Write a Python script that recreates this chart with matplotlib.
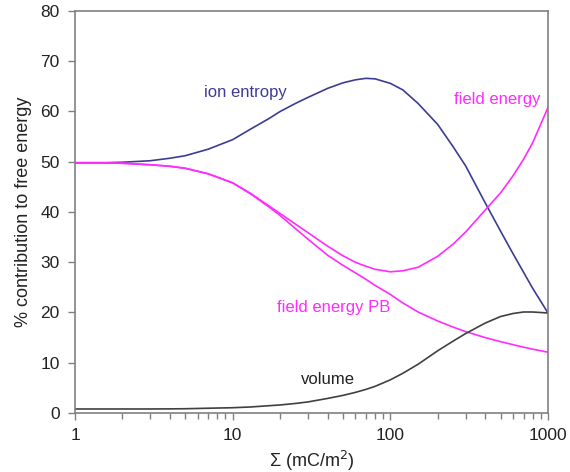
import matplotlib.pyplot as plt
from matplotlib.ticker import FixedLocator, FixedFormatter, LogLocator, NullFormatter

plt.rcParams.update({"font.family": ["Liberation Sans", "DejaVu Sans"], "font.size": 12})

# surface charge density (mC/m^2)
sigma = [1, 1.5, 2, 3, 4, 5, 7, 10, 13, 17, 20, 25, 30, 40, 50, 60, 70, 80,
         100, 120, 150, 200, 250, 300, 400, 500, 600, 700, 800, 1000]

ion_entropy = [49.8, 49.8, 49.9, 50.2, 50.7, 51.2, 52.5, 54.4, 56.5, 58.6, 60.0, 61.6,
               62.8, 64.6, 65.7, 66.3, 66.6, 66.5, 65.6, 64.3, 61.6, 57.4, 53.0, 49.2,
               41.8, 36.2, 31.7, 28.0, 24.8, 19.9]
field_energy = [49.8, 49.8, 49.7, 49.4, 49.1, 48.7, 47.6, 45.8, 43.7, 41.2, 39.7, 37.6,
                35.9, 33.2, 31.3, 30.0, 29.2, 28.6, 28.1, 28.3, 29.0, 31.2, 33.6, 36.0,
                40.4, 43.8, 47.2, 50.5, 53.8, 60.8]
field_energy_pb = [49.8, 49.8, 49.7, 49.4, 49.1, 48.7, 47.6, 45.8, 43.6, 41.0, 39.3, 36.7,
                   34.6, 31.4, 29.4, 27.9, 26.6, 25.4, 23.6, 21.9, 20.1, 18.3, 17.1, 16.2,
                   15.0, 14.2, 13.6, 13.1, 12.7, 12.1]
volume = [0.8, 0.8, 0.8, 0.8, 0.82, 0.85, 0.95, 1.05, 1.2, 1.45, 1.6, 1.9,
          2.2, 2.9, 3.5, 4.1, 4.7, 5.3, 6.6, 7.9, 9.7, 12.4, 14.3, 15.8,
          17.9, 19.2, 19.8, 20.1, 20.1, 19.9]

BLUE = "#3c3c96"
MAGENTA = "#ff2bff"
GREY = "#404040"

fig = plt.figure(figsize=(5.7, 4.72), dpi=100)
ax = fig.add_axes([0.1316, 0.125, 0.8298, 0.8517])

ax.plot(sigma, ion_entropy, color=BLUE, lw=1.2)
ax.plot(sigma, field_energy, color=MAGENTA, lw=1.2)
ax.plot(sigma, field_energy_pb, color=MAGENTA, lw=1.2)
ax.plot(sigma, volume, color=GREY, lw=1.2)

ax.set_xscale("log")
ax.set_xlim(1, 1000)
ax.set_ylim(0, 80)
ax.xaxis.set_major_locator(FixedLocator([1, 10, 100, 1000]))
ax.xaxis.set_major_formatter(FixedFormatter(["1", "10", "100", "1000"]))
ax.xaxis.set_minor_locator(LogLocator(base=10, subs=range(2, 10)))
ax.xaxis.set_minor_formatter(NullFormatter())
ax.set_yticks(range(0, 81, 10))

for s in ax.spines.values():
    s.set_color("#808080")
    s.set_linewidth(1.2)
ax.tick_params(which="major", length=5, width=1, color="#808080", labelsize=12.5,
               labelcolor="#222222", pad=6)
ax.tick_params(axis="x", which="minor", length=4, width=1, color="#808080")

ax.set_xlabel("Σ (mC/m$^2$)", fontsize=13, color="#222222", labelpad=4)
ax.set_ylabel("% contribution to free energy", fontsize=13, color="#222222", labelpad=6)

ax.text(12.1, 63.7, "ion entropy", color=BLUE, fontsize=12, ha="center", va="center")
ax.text(890, 62.3, "field energy", color=MAGENTA, fontsize=12, ha="right", va="center")
ax.text(43.9, 20.9, "field energy PB", color=MAGENTA, fontsize=12, ha="center", va="center")
ax.text(40.2, 6.6, "volume", color="#222222", fontsize=12, ha="center", va="center")

fig.savefig("out.png", dpi=100)
